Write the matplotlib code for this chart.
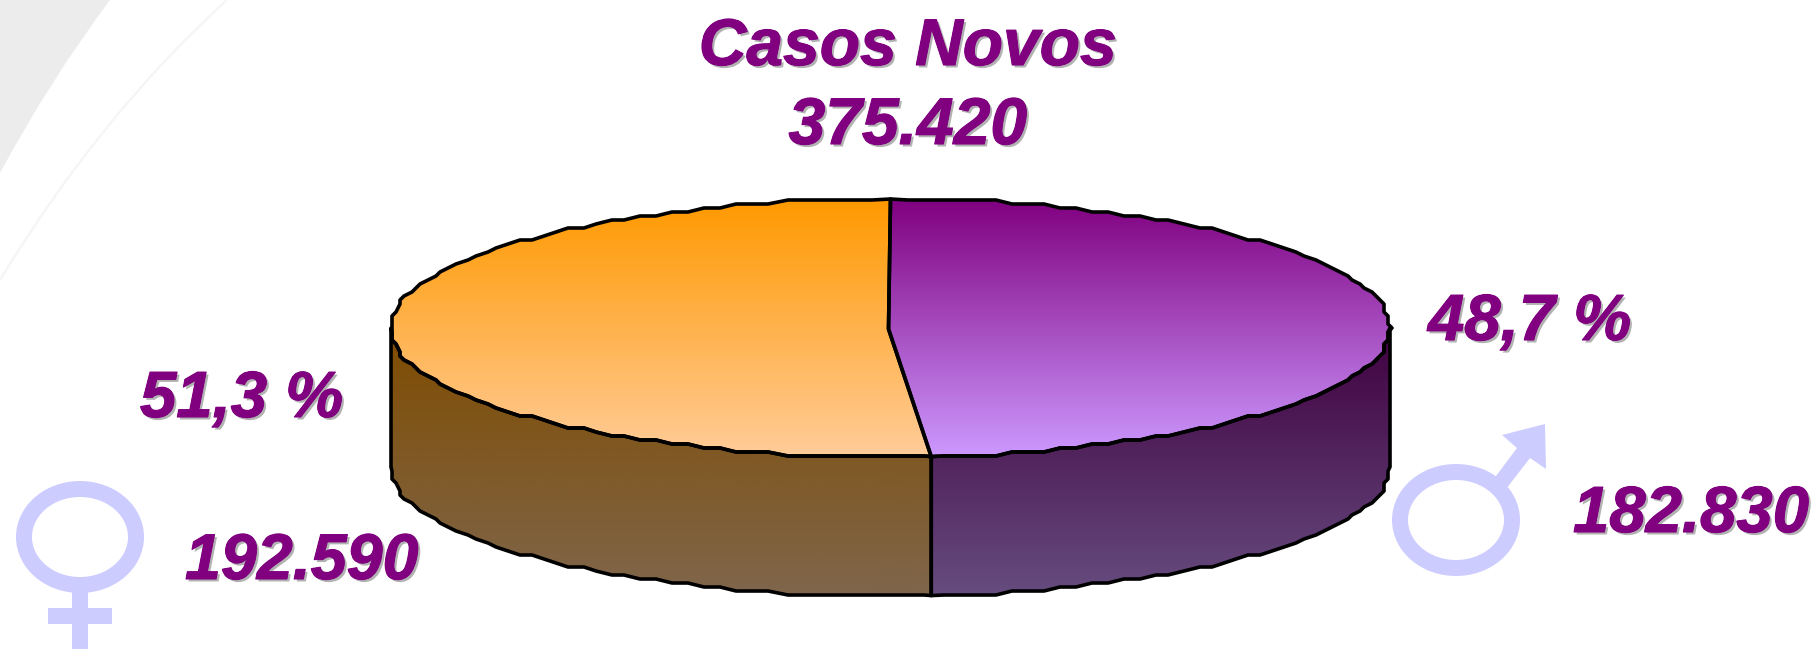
import numpy as np
import matplotlib
matplotlib.use('Agg')
import matplotlib.pyplot as plt
from matplotlib.colors import to_rgb
from matplotlib.patches import Polygon, Ellipse, PathPatch
from matplotlib.path import Path
import matplotlib.patheffects as pe

plt.rcParams['font.family'] = ['Liberation Sans', 'DejaVu Sans']

# casos novos por sexo
sexos = ['Feminino', 'Masculino']
casos = [192590, 182830]
percentuais = ['51,3 %', '48,7 %']
totais = ['192.590', '182.830']
titulo = ['Casos Novos', '375.420']

topo_cores = [('#FF9900', '#FFCC99'), ('#800080', '#CC99FF')]
lado_cores = [('#7F4C00', '#7F664C'), ('#400040', '#664C7F')]
ROXO = '#800080'
SOMBRA = '#B2B2B2'
SIMBOLO = '#CCCCFF'

# geometria da pizza, em pixels
CX, CY = 890.5, 328
RX, RY = 499.5, 129
ALTURA = 139
GRADE = 4
PASSO = 2.0


def elipse(t0, t1):
    # arco em graus, com o contorno em degraus
    meio = np.arange(np.floor(t0 / PASSO + 1) * PASSO, t1, PASSO)
    t = np.radians(np.concatenate(([t0], meio, [t1])))
    x = CX + RX * np.cos(t)
    y = CY - RY * np.sin(t)
    y[1:-1] = np.round(y[1:-1] / GRADE) * GRADE
    x[1:-1] = np.round(x[1:-1] / GRADE) * GRADE
    return np.column_stack((x, y))


def gradiente(ax, pontos, c0, c1, y0, y1):
    # preenchimento vertical recortado pelo poligono
    a, b = np.array(to_rgb(c0)), np.array(to_rgb(c1))
    f = np.linspace(0, 1, 256)[:, None]
    img = (a + (b - a) * f)[:, None, :]
    im = ax.imshow(img, extent=(CX - RX - 5, CX + RX + 5, y1, y0), aspect='auto',
                   origin='upper', zorder=2, interpolation='bilinear')
    im.set_clip_path(Polygon(pontos, closed=True, transform=ax.transData))
    ax.add_patch(Polygon(pontos, closed=True, fill=False, edgecolor='black',
                         linewidth=2.6, joinstyle='round', zorder=3))


def rotulo(ax, x, y, s, tam=47, ha='left'):
    ax.text(x, y, s, fontsize=tam, fontweight='bold', fontstyle='italic',
            color=ROXO, ha=ha, va='baseline', zorder=5,
            path_effects=[pe.withSimplePatchShadow(offset=(1.8, -1.8), shadow_rgbFace=SOMBRA, alpha=1),
                          pe.withStroke(linewidth=0.8, foreground=ROXO)])


fig = plt.figure(figsize=(18.16, 6.49), dpi=100)
ax = fig.add_axes([0, 0, 1, 1])

# curvas claras do canto do fundo
ax.add_patch(PathPatch(Path([(0, 0), (110, 0), (50, 80), (0, 173), (0, 0)],
                            [Path.MOVETO, Path.LINETO, Path.CURVE3, Path.CURVE3, Path.CLOSEPOLY]),
                       facecolor='#ECECEC', lw=0, zorder=0))
ax.add_patch(PathPatch(Path([(227, 0), (100, 115), (0, 280)],
                            [Path.MOVETO, Path.CURVE3, Path.CURVE3]),
                       fill=False, edgecolor='#F5F5F5', lw=1.6, zorder=0))

# angulo da divisao entre as fatias: comeca no alto e gira no sentido anti-horario
fracao = casos[0] / sum(casos)
corte = 90 + 360 * fracao

# laterais
frente = [(180, corte), (corte, 360)]
for (t0, t1), (c0, c1) in zip(frente, lado_cores):
    arco = elipse(t0, t1)
    base = arco[::-1] + [0, ALTURA]
    gradiente(ax, np.vstack((arco, base)), c0, c1, CY, CY + RY + ALTURA)

# tampa
centro = [[CX - 2, CY + 1]]
fatias = [(90, corte), (corte, 450)]
for (t0, t1), (c0, c1) in zip(fatias, topo_cores):
    pontos = np.vstack((centro, elipse(t0, t1)))
    gradiente(ax, pontos, c0, c1, CY - RY, CY + RY)

# titulo e rotulos
rotulo(ax, 908, 65, titulo[0], tam=47.5, ha='center')
rotulo(ax, 908, 144, titulo[1], tam=47.5, ha='center')
rotulo(ax, 140, 417, percentuais[0])
rotulo(ax, 1428, 340, percentuais[1])
rotulo(ax, 185, 579, totais[0], tam=46.5)
rotulo(ax, 1573, 532, totais[1])

# simbolo feminino
ax.fill([72, 88, 88, 112, 112, 88, 88, 72, 72, 48, 48, 72],
        [585, 585, 608, 608, 624, 624, 649, 649, 624, 624, 608, 608],
        color=SIMBOLO, lw=0, zorder=1)
ax.add_patch(Ellipse((80, 537), 112, 96, fill=False, edgecolor=SIMBOLO, linewidth=11.5, zorder=1))

# simbolo masculino
ax.fill([1545, 1502, 1517, 1493, 1503, 1530, 1546],
        [424, 435, 448, 480, 493, 458, 469],
        color=SIMBOLO, lw=0, zorder=1)
ax.add_patch(Ellipse((1456, 520), 112, 96, facecolor='white', edgecolor=SIMBOLO, linewidth=11.5, zorder=1))

ax.set_xlim(0, 1816)
ax.set_ylim(649, 0)
ax.axis('off')

fig.savefig('out.png', dpi=100)
